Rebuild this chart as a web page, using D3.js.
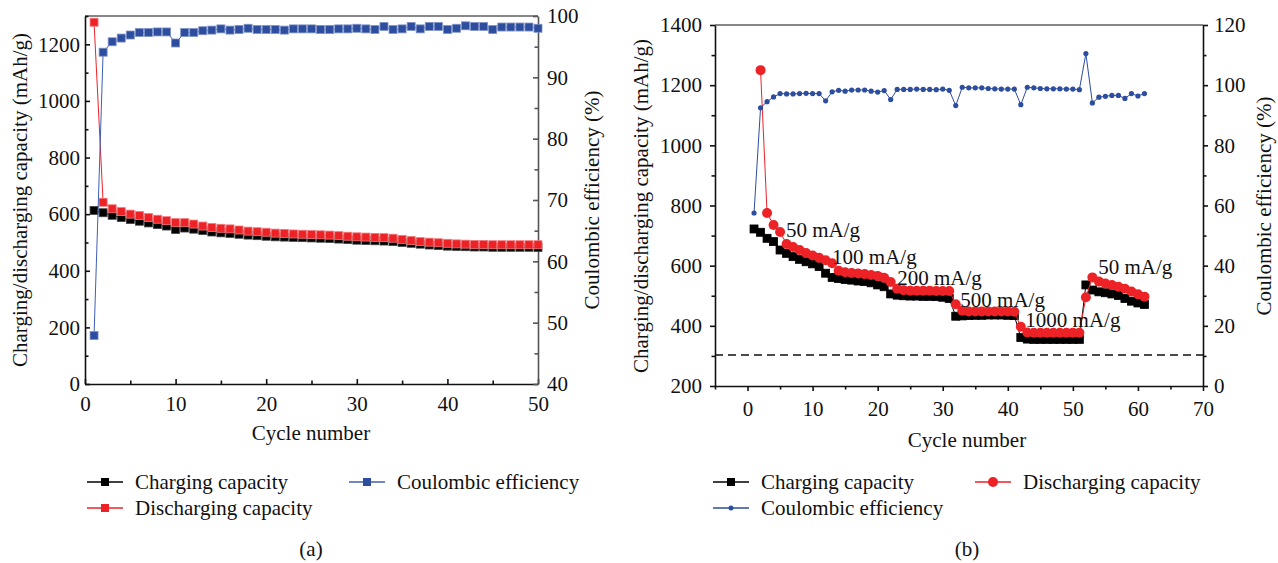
<!DOCTYPE html>
<html>
<head>
<meta charset="utf-8">
<script src="https://cdnjs.cloudflare.com/ajax/libs/d3/7.8.5/d3.min.js"></script>
<style>
  body { margin: 0; background: #fff; }
  svg text { font-family: "Liberation Serif", "Times New Roman", serif; fill: #111; }
  .axis text { font-size: 21px; }
  .axis path, .axis line { stroke: #111; stroke-width: 1.6; }
  .right-a path, .right-a line { stroke: #555; }
  .label { font-size: 21px; }
</style>
</head>
<body>
<div class="chart"></div>
<script>
// Data
//= ================================
// (a) cycling at constant rate
var cyclesA = d3.range(1, 51);
var chargeA = [613, 605, 596, 588, 581, 575, 569, 563, 558, 546,
  551, 547, 542, 537, 534, 532, 529, 526, 524, 522,
  520, 519, 518, 517, 516, 515, 514, 512, 510, 508,
  507, 506, 505, 503, 500, 497, 494, 491, 489, 487,
  486, 485, 484, 484, 483, 483, 483, 483, 483, 482];
var dischargeA = [1278, 642, 619, 609, 600, 595, 588, 582, 577, 570,
  570, 565, 558, 553, 550, 548, 544, 540, 538, 536,
  533, 532, 530, 529, 528, 527, 526, 524, 522, 520,
  519, 518, 517, 515, 511, 507, 503, 501, 499, 497,
  495, 494, 493, 493, 492, 492, 492, 492, 492, 492];
var effA = [47.9, 94.1, 95.8, 96.4, 96.9, 97.3, 97.3, 97.4, 97.4, 95.6,
  97.3, 97.3, 97.6, 97.7, 97.9, 97.7, 97.8, 98.0, 97.8, 97.8,
  97.8, 97.7, 97.9, 97.9, 97.9, 97.8, 97.8, 97.9, 97.9, 98.0,
  97.9, 97.8, 98.3, 97.8, 97.9, 98.3, 97.9, 98.3, 98.3, 97.8,
  98.0, 98.4, 98.3, 98.3, 97.8, 98.2, 98.2, 98.2, 98.2, 98.0];

// (b) rate capability
var cyclesB = d3.range(1, 62);
var chargeB = [722, 711, 691, 680, 652, 641, 630, 621, 613, 606,
  597, 575, 561, 557, 554, 552, 549, 547, 543, 536,
  530, 506, 502, 500, 499, 499, 498, 498, 497, 495,
  491, 432, 433, 434, 435, 435, 436, 436, 436, 435,
  434, 361, 356, 355, 355, 355, 355, 355, 355, 355,
  355, 536, 519, 513, 510, 506, 501, 491, 482, 476,
  471];
var dischargeCyclesB = d3.range(2, 62);
var dischargeB = [1250, 775, 735, 712, 672, 662, 652, 642, 634,
  626, 618, 608, 583, 578, 576, 574, 572, 569, 566,
  560, 546, 523, 518, 517, 517, 517, 517, 516, 516,
  516, 472, 450, 448, 448, 448, 448, 448, 448, 448,
  447, 397, 378, 377, 377, 377, 377, 377, 377, 377,
  377, 495, 561, 547, 541, 536, 530, 523, 514, 505,
  497];
var effB = [57.5, 92.5, 94.5, 96.1, 97.2, 97.1, 97.1, 97.2, 97.3, 97.2,
  97.2, 94.8, 97.8, 98.3, 98.0, 98.4, 98.4, 98.4, 98.0, 97.7,
  98.2, 95.2, 98.6, 98.6, 98.6, 98.7, 98.6, 98.6, 98.5, 98.7,
  98.3, 93.2, 99.3, 99.1, 99.1, 99.1, 98.9, 98.8, 98.7, 98.7,
  98.7, 93.5, 99.3, 99.1, 98.9, 98.8, 98.8, 98.8, 98.7, 98.7,
  98.5, 110.5, 94.1, 96.0, 96.3, 96.6, 96.6, 95.6, 97.2, 96.4,
  97.2];

var rateLabels = ["50 mA/g", "100 mA/g", "200 mA/g", "500 mA/g", "1000 mA/g", "50 mA/g"];
var rateLabelCycle = [5.9, 13, 23, 32.7, 42.7, 53.9];
var rateLabelCap = [719, 629, 559, 486, 419, 596];
var cutoffCap = 303;

// tick labels
var xTicksA = [0, 10, 20, 30, 40, 50];
var yTicksA = [0, 200, 400, 600, 800, 1000, 1200];
var y2TicksA = [40, 50, 60, 70, 80, 90, 100];
var xTicksB = [0, 10, 20, 30, 40, 50, 60, 70];
var yTicksB = [200, 400, 600, 800, 1000, 1200, 1400];
var y2TicksB = [0, 20, 40, 60, 80, 100, 120];

var legendA = ["Charging capacity", "Discharging capacity", "Coulombic efficiency"];
var legendB = ["Charging capacity", "Discharging capacity", "Coulombic efficiency"];

var black = "#000000";
var red = "#ec2227";
var blue = "#2d4d9f";
var blueLine = "#3f5fb3";

// Step 0: Set up the svg
//= ================================
var svgWidth = 1278;
var svgHeight = 563;

var svg = d3
  .select(".chart")
  .append("svg")
  .attr("width", svgWidth)
  .attr("height", svgHeight);

svg.append("rect").attr("width", svgWidth).attr("height", svgHeight).attr("fill", "#fff");

// minor tick values halfway between majors
function halfway(ticks) {
  var out = [];
  for (var i = 0; i < ticks.length - 1; i++) out.push((ticks[i] + ticks[i + 1]) / 2);
  return out;
}

// draws a major axis plus a label-less minor axis
function addAxis(axisFn, scale, major, minor, size, pad, translate, cls) {
  var g = svg.append("g")
    .attr("class", "axis " + (cls || ""))
    .attr("transform", translate);
  g.call(axisFn(scale).tickValues(major).tickSizeInner(size).tickSizeOuter(0)
    .tickPadding(pad).tickFormat(d3.format("d")));
  var m = svg.append("g")
    .attr("class", "axis " + (cls || ""))
    .attr("transform", translate);
  m.call(axisFn(scale).tickValues(minor).tickSizeInner(size * 0.7).tickSizeOuter(0).tickFormat(""));
  m.select(".domain").remove();
  return g;
}

function drawLine(xs, ys, xScale, yScale, color, width) {
  var line = d3.line()
    .x(function(d) { return xScale(d[0]); })
    .y(function(d) { return yScale(d[1]); });
  svg.append("path")
    .datum(d3.zip(xs, ys))
    .attr("d", line)
    .attr("fill", "none")
    .attr("stroke", color)
    .attr("stroke-width", width);
}

function drawSquares(xs, ys, xScale, yScale, color, edge, s) {
  svg.append("g")
    .selectAll("rect")
    .data(d3.zip(xs, ys))
    .enter()
    .append("rect")
    .attr("x", function(d) { return xScale(d[0]) - s / 2; })
    .attr("y", function(d) { return yScale(d[1]) - s / 2; })
    .attr("width", s)
    .attr("height", s)
    .attr("fill", color)
    .attr("stroke", edge)
    .attr("stroke-width", 0.8);
}

function drawDots(xs, ys, xScale, yScale, color, r) {
  svg.append("g")
    .selectAll("circle")
    .data(d3.zip(xs, ys))
    .enter()
    .append("circle")
    .attr("cx", function(d) { return xScale(d[0]); })
    .attr("cy", function(d) { return yScale(d[1]); })
    .attr("r", r)
    .attr("fill", color);
}

// legend row: line, marker, text
function legendItem(x, y, lineColor, markColor, marker, text) {
  svg.append("line")
    .attr("x1", x).attr("x2", x + 36)
    .attr("y1", y).attr("y2", y)
    .attr("stroke", lineColor).attr("stroke-width", 1.5);
  if (marker === "square") {
    svg.append("rect").attr("x", x + 14).attr("y", y - 4).attr("width", 8).attr("height", 8).attr("fill", markColor);
  } else {
    svg.append("circle").attr("cx", x + 18).attr("cy", y).attr("r", marker === "dot" ? 2.5 : 5).attr("fill", markColor);
  }
  svg.append("text")
    .attr("class", "label")
    .attr("x", x + 48)
    .attr("y", y)
    .attr("dy", "0.35em")
    .text(text);
}

// Panel (a)
//= ================================
var xA = d3.scaleLinear().domain([0, 50]).range([85, 538]);
var yA = d3.scaleLinear().domain([0, 1300]).range([384, 16]);
var y2A = d3.scaleLinear().domain([40, 100]).range([384, 16]);

// top frame line
svg.append("line")
  .attr("x1", xA(0)).attr("x2", xA(50))
  .attr("y1", yA(1300)).attr("y2", yA(1300))
  .attr("stroke", "#111").attr("stroke-width", 1.2);

addAxis(d3.axisBottom, xA, xTicksA, halfway(xTicksA), -5, 12, "translate(0," + yA(0) + ")");
addAxis(d3.axisLeft, yA, yTicksA, halfway(yTicksA).concat([1300]), -5, 5, "translate(" + xA(0) + ",0)");
addAxis(d3.axisRight, y2A, y2TicksA, halfway(y2TicksA), -5, 9, "translate(" + xA(50) + ",0)", "right-a");

drawLine(cyclesA, chargeA, xA, yA, black, 1);
drawSquares(cyclesA, chargeA, xA, yA, black, "#444", 8);
drawLine(cyclesA, dischargeA, xA, yA, red, 1);
drawSquares(cyclesA, dischargeA, xA, yA, red, "#f37a7c", 8);
drawLine(cyclesA, effA, xA, y2A, blueLine, 1);
drawSquares(cyclesA, effA, xA, y2A, blue, "#7f93c8", 8);

svg.append("text")
  .attr("class", "label")
  .attr("transform", "translate(20,200) rotate(-90)")
  .attr("text-anchor", "middle")
  .attr("dy", "0.35em")
  .text("Charging/discharging capacity (mAh/g)");

svg.append("text")
  .attr("class", "label")
  .attr("transform", "translate(592,200) rotate(-90)")
  .attr("text-anchor", "middle")
  .attr("dy", "0.35em")
  .text("Coulombic efficiency (%)");

svg.append("text")
  .attr("class", "label")
  .attr("x", 311).attr("y", 433)
  .attr("text-anchor", "middle")
  .attr("dy", "0.35em")
  .text("Cycle number");

legendItem(87, 482, black, black, "square", legendA[0]);
legendItem(87, 508, red, red, "square", legendA[1]);
legendItem(349, 482, blueLine, blue, "square", legendA[2]);

svg.append("text")
  .attr("class", "label")
  .attr("x", 311).attr("y", 549)
  .attr("text-anchor", "middle")
  .attr("dy", "0.35em")
  .text("(a)");

// Panel (b)
//= ================================
var xB = d3.scaleLinear().domain([-5, 70]).range([715, 1203]);
var yB = d3.scaleLinear().domain([200, 1400]).range([386, 25]);
var y2B = d3.scaleLinear().domain([0, 120]).range([386, 25]);

svg.append("line")
  .attr("x1", xB(-5)).attr("x2", xB(70))
  .attr("y1", yB(1400)).attr("y2", yB(1400))
  .attr("stroke", "#111").attr("stroke-width", 1.2);

addAxis(d3.axisBottom, xB, xTicksB, [-5].concat(halfway(xTicksB)), 5, 10, "translate(0," + yB(200) + ")");
addAxis(d3.axisLeft, yB, yTicksB, halfway(yTicksB), 5, 8, "translate(" + xB(-5) + ",0)");
addAxis(d3.axisRight, y2B, y2TicksB, halfway(y2TicksB), 5, 6, "translate(" + xB(70) + ",0)");

// dashed reference line
svg.append("line")
  .attr("x1", xB(-5)).attr("x2", xB(70))
  .attr("y1", yB(cutoffCap)).attr("y2", yB(cutoffCap))
  .attr("stroke", "#111")
  .attr("stroke-width", 1.3)
  .attr("stroke-dasharray", "8,5");

drawLine(cyclesB, chargeB, xB, yB, black, 1);
drawSquares(cyclesB, chargeB, xB, yB, black, "#000", 8);
drawLine(dischargeCyclesB, dischargeB, xB, yB, red, 1);
drawDots(dischargeCyclesB, dischargeB, xB, yB, red, 5);
drawLine(cyclesB, effB, xB, y2B, blue, 1);
drawDots(cyclesB, effB, xB, y2B, blue, 2.6);

// current density annotations
svg.append("g")
  .selectAll("text")
  .data(rateLabels)
  .enter()
  .append("text")
  .attr("class", "label")
  .attr("x", function(d, i) { return xB(rateLabelCycle[i]); })
  .attr("y", function(d, i) { return yB(rateLabelCap[i]); })
  .attr("dy", "0.35em")
  .text(function(d) { return d; });

svg.append("text")
  .attr("class", "label")
  .attr("transform", "translate(641,206) rotate(-90)")
  .attr("text-anchor", "middle")
  .attr("dy", "0.35em")
  .text("Charging/discharging capacity (mAh/g)");

svg.append("text")
  .attr("class", "label")
  .attr("transform", "translate(1264,206) rotate(-90)")
  .attr("text-anchor", "middle")
  .attr("dy", "0.35em")
  .text("Coulombic efficiency (%)");

svg.append("text")
  .attr("class", "label")
  .attr("x", 967).attr("y", 440)
  .attr("text-anchor", "middle")
  .attr("dy", "0.35em")
  .text("Cycle number");

legendItem(713, 482, black, black, "square", legendB[0]);
legendItem(975, 482, red, red, "circle", legendB[1]);
legendItem(713, 508, blue, blue, "dot", legendB[2]);

svg.append("text")
  .attr("class", "label")
  .attr("x", 967).attr("y", 549)
  .attr("text-anchor", "middle")
  .attr("dy", "0.35em")
  .text("(b)");
</script>
</body>
</html>
